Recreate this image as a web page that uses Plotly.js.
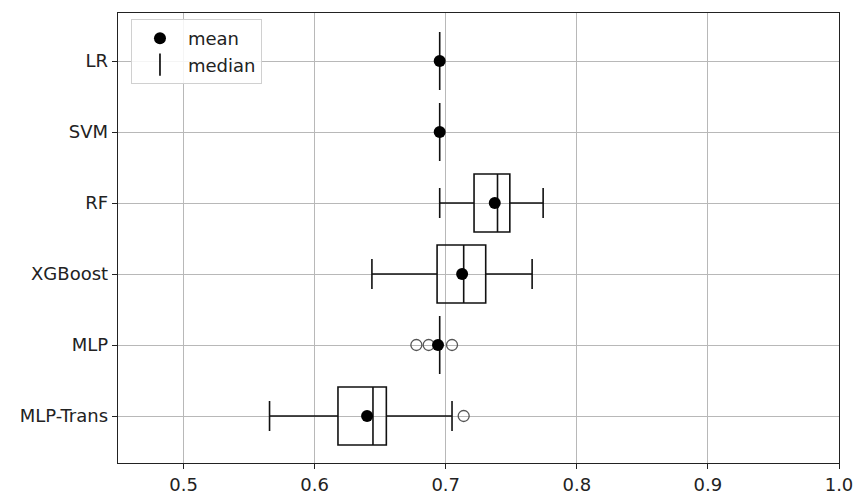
<!DOCTYPE html>
<html>
<head>
<meta charset="utf-8">
<script src="https://cdn.plot.ly/plotly-3.0.1.min.js"></script>
<style>html,body{margin:0;padding:0;background:#fff;}#chart{width:860px;height:496px;}</style>
</head>
<body>
<div id="chart"></div>
<script>
// Data
const categories = ['LR', 'SVM', 'RF', 'XGBoost', 'MLP', 'MLP-Trans'];
const q1Values = [0.6954, 0.6954, 0.7216, 0.6934, 0.6954, 0.6178];
const medianValues = [0.6954, 0.6954, 0.7395, 0.7137, 0.6954, 0.6445];
const q3Values = [0.6954, 0.6954, 0.7489, 0.7305, 0.6954, 0.6547];
const lowerWhisker = [0.6954, 0.6954, 0.6954, 0.6437, 0.6954, 0.5656];
const upperWhisker = [0.6954, 0.6954, 0.7743, 0.7659, 0.6954, 0.7048];
const meanValues = [0.6954, 0.6954, 0.7374, 0.7125, 0.6941, 0.6400];
const outlierCategories = ['MLP', 'MLP', 'MLP', 'MLP-Trans'];
const outlierValues = [0.6776, 0.6870, 0.7048, 0.7137];
const xTickValues = [0.5, 0.6, 0.7, 0.8, 0.9, 1.0];

const boxTrace = {
  type: 'box',
  orientation: 'h',
  y: categories,
  q1: q1Values,
  median: medianValues,
  q3: q3Values,
  lowerfence: lowerWhisker,
  upperfence: upperWhisker,
  width: 0.817,
  whiskerwidth: 0.52,
  fillcolor: 'rgba(0,0,0,0)',
  line: {color: '#111', width: 1.6},
  boxpoints: false,
  showlegend: false,
  hoverinfo: 'skip'
};

const outlierTrace = {
  type: 'scatter',
  mode: 'markers',
  x: outlierValues,
  y: outlierCategories,
  marker: {symbol: 'circle-open', size: 11, color: '#555', line: {width: 1.3, color: '#555'}},
  showlegend: false,
  hoverinfo: 'skip'
};

const meanTrace = {
  type: 'scatter',
  mode: 'markers',
  name: 'mean',
  x: meanValues,
  y: categories,
  marker: {symbol: 'circle', size: 12, color: '#000'}
};

const medianLegendTrace = {
  type: 'scatter',
  mode: 'markers',
  name: 'median',
  x: [null],
  y: [null],
  marker: {symbol: 'line-ns-open', size: 30, color: '#000', line: {width: 1.6, color: '#111'}}
};

const axisStyle = {
  showgrid: true,
  gridcolor: '#b8b8b8',
  gridwidth: 1,
  ticks: 'outside',
  ticklen: 5,
  tickwidth: 1,
  tickcolor: '#222',
  showline: true,
  mirror: true,
  linecolor: '#222',
  linewidth: 1.3,
  zeroline: false
};

const layout = {
  width: 860,
  height: 496,
  margin: {l: 118, r: 21, t: 13, b: 33},
  paper_bgcolor: '#fff',
  plot_bgcolor: '#fff',
  font: {family: 'DejaVu Sans', size: 18, color: '#222'},
  xaxis: Object.assign({}, axisStyle, {
    range: [0.45, 1.0],
    tickvals: xTickValues,
    tickformat: '.1f'
  }),
  yaxis: Object.assign({}, axisStyle, {
    type: 'category',
    categoryorder: 'array',
    categoryarray: categories,
    range: [5.662, -0.676]
  }),
  showlegend: true,
  legend: {
    x: 0.0180, y: 0.9867, xanchor: 'left', yanchor: 'top',
    itemwidth: 46,
    bgcolor: 'rgba(255,255,255,0.85)',
    bordercolor: '#d0d0d0', borderwidth: 1,
    font: {family: 'DejaVu Sans', size: 18, color: '#222'}
  }
};

Plotly.newPlot('chart', [boxTrace, outlierTrace, meanTrace, medianLegendTrace], layout, {displayModeBar: false, staticPlot: true});
</script>
</body>
</html>
